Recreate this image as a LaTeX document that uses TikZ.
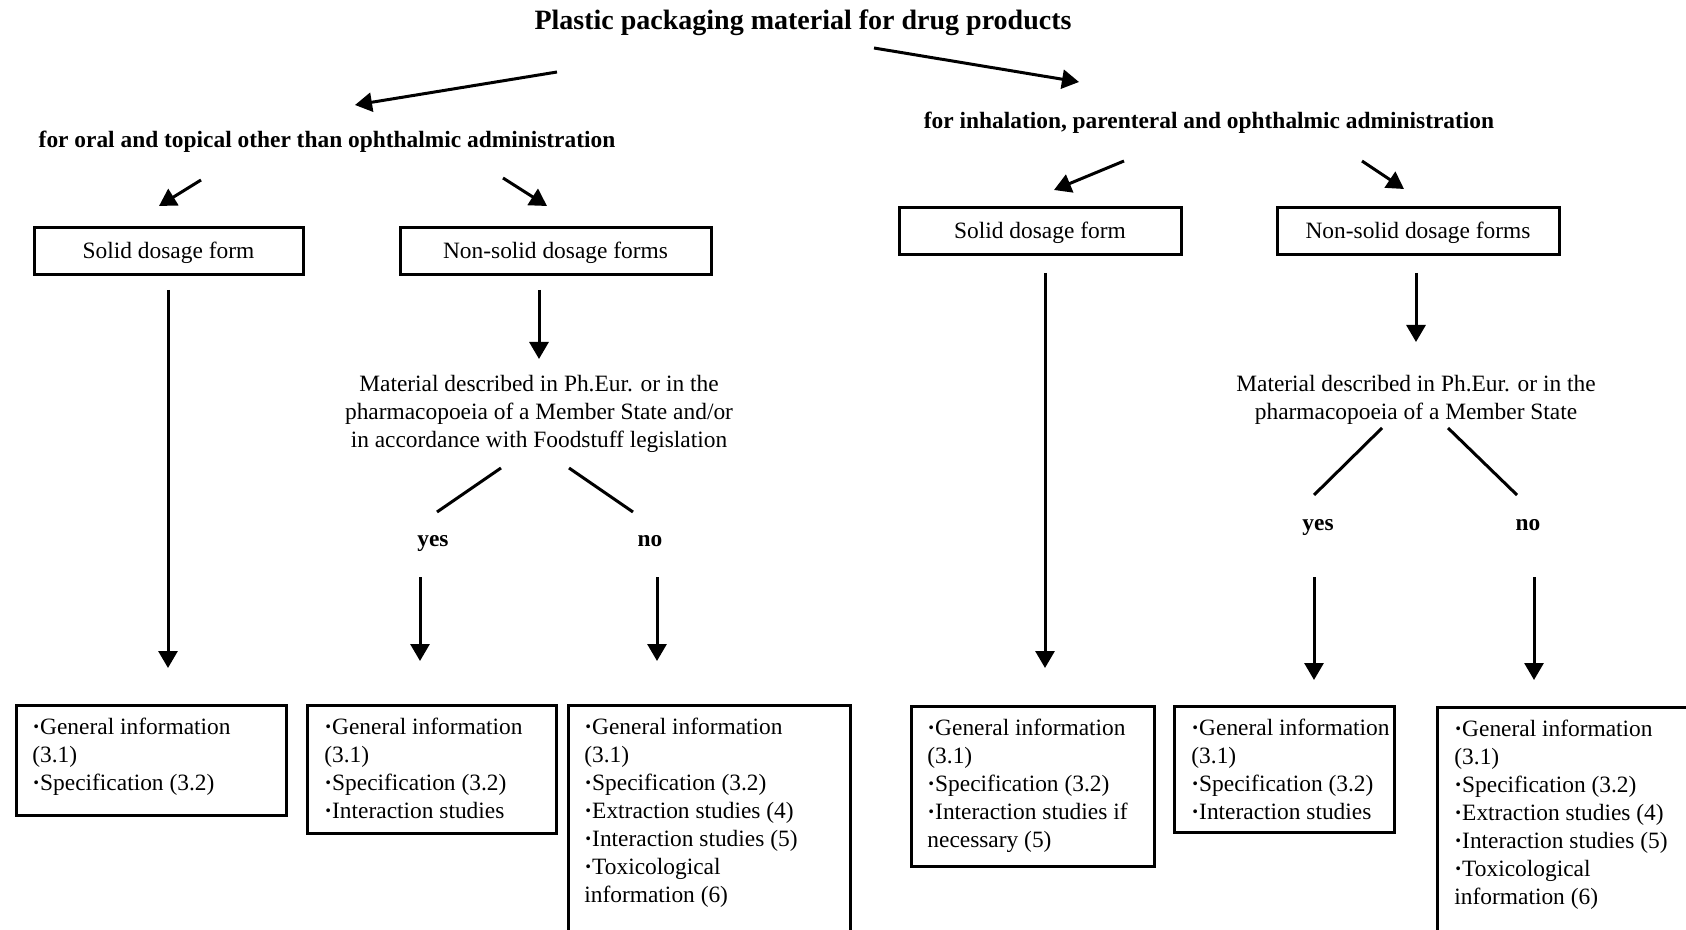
\documentclass[tikz,border=0pt]{standalone}
\usepackage{fontspec}
\setmainfont{Liberation Serif}
\usetikzlibrary{arrows.meta}
\newcommand{\bl}{\textbf{·}}
\begin{document}
\begin{tikzpicture}[x=0.5pt,y=-0.5pt,
  every node/.style={inner sep=0pt, font=\fontsize{11.7}{14}\selectfont},
  hd/.style={font=\bfseries\fontsize{11.7}{14}\selectfont},
  yn/.style={font=\bfseries\fontsize{11.7}{14}\selectfont, anchor=base},
  ttl/.style={font=\bfseries\fontsize{14}{16}\selectfont},
  topbox/.style={draw, line width=1.5pt, minimum height=23.5pt, text height=8pt, text depth=1pt},
  botbox/.style={draw, line width=1.5pt, anchor=north west},
  btxt/.style={align=left, anchor=north west},
  mat/.style={align=center},
  arr/.style={line width=1.5pt, -{Triangle[length=8.5pt,width=9.5pt]}},
  ln/.style={line width=1.5pt}
]
\useasboundingbox (0,0) rectangle (1686,930);

% headings
\node[ttl] (title) at (803,23) {Plastic packaging material for drug products};
\node[hd] (headL) at (327,142) {for oral and topical other than ophthalmic administration};
\node[hd] (headR) at (1209,123) {for inhalation, parenteral and ophthalmic administration};

% top boxes
\node[topbox, minimum width=134.5pt] (solidL) at (168.5,251.5) {Solid dosage form};
\node[topbox, minimum width=155.5pt] (nonL) at (555.5,251.5) {Non-solid dosage forms};
\node[topbox, minimum width=141pt] (solidR) at (1040,231.5) {Solid dosage form};
\node[topbox, minimum width=141pt] (nonR) at (1418,231.5) {Non-solid dosage forms};

% material texts
\node[mat] (matL) at (539,414) {Material described in Ph.Eur. or in the\\pharmacopoeia of a Member State and/or\\in accordance with Foodstuff legislation};
\node[mat] (matR) at (1416,400) {Material described in Ph.Eur. or in the\\pharmacopoeia of a Member State};

% yes / no
\node[yn] (yesL) at (433,546) {yes};
\node[yn] (noL) at (650,546) {no};
\node[yn] (yesR) at (1318,530) {yes};
\node[yn] (noR) at (1528,530) {no};

% bottom boxes
\node[botbox, minimum width=135pt, minimum height=55pt] (b1) at (15,704) {};
\node[botbox, minimum width=124.5pt, minimum height=64pt] (b2) at (306,704) {};
\node[botbox, minimum width=141pt, minimum height=125pt] (b3) at (567,704) {};
\node[botbox, minimum width=121.5pt, minimum height=80pt] (b4) at (910,705) {};
\node[botbox, minimum width=110pt, minimum height=63pt] (b5) at (1173,705) {};
\node[botbox, minimum width=140pt, minimum height=125pt] (b6) at (1436,706) {};

\node[btxt] (t1) at ([xshift=8.5pt,yshift=-7pt]b1.north west) {\bl General information\\(3.1)\\\bl Specification (3.2)};
\node[btxt] (t2) at ([xshift=9pt,yshift=-7pt]b2.north west) {\bl General information\\(3.1)\\\bl Specification (3.2)\\\bl Interaction studies};
\node[btxt] (t3) at ([xshift=8.5pt,yshift=-7pt]b3.north west) {\bl General information\\(3.1)\\\bl Specification (3.2)\\\bl Extraction studies (4)\\\bl Interaction studies (5)\\\bl Toxicological\\information (6)};
\node[btxt] (t4) at ([xshift=8.5pt,yshift=-7pt]b4.north west) {\bl General information\\(3.1)\\\bl Specification (3.2)\\\bl Interaction studies if\\necessary (5)};
\node[btxt] (t5) at ([xshift=9pt,yshift=-7pt]b5.north west) {\bl General information\\(3.1)\\\bl Specification (3.2)\\\bl Interaction studies};
\node[btxt] (t6) at ([xshift=9pt,yshift=-7pt]b6.north west) {\bl General information\\(3.1)\\\bl Specification (3.2)\\\bl Extraction studies (4)\\\bl Interaction studies (5)\\\bl Toxicological\\information (6)};

% connector end points
\coordinate (a1s) at (557,72);   \coordinate (a1e) at (355,105);
\coordinate (a2s) at (874,48);   \coordinate (a2e) at (1079,82);
\coordinate (a3s) at (201,180);  \coordinate (a3e) at (159,206);
\coordinate (a4s) at (503,178);  \coordinate (a4e) at (547,206);
\coordinate (a5s) at (1124,161); \coordinate (a5e) at (1054,190);
\coordinate (a6s) at (1362,161); \coordinate (a6e) at (1404,189);
\coordinate (a7s) at (168,290);  \coordinate (a7e) at (168,668);
\coordinate (a8s) at (539,290);  \coordinate (a8e) at (539,359);
\coordinate (a9s) at (1045,273); \coordinate (a9e) at (1045,668);
\coordinate (a10s) at (1416,273); \coordinate (a10e) at (1416,342);
\coordinate (l1s) at (501,468);  \coordinate (l1e) at (437,512);
\coordinate (l2s) at (569,468);  \coordinate (l2e) at (633,512);
\coordinate (l3s) at (1382,428); \coordinate (l3e) at (1314,495);
\coordinate (l4s) at (1448,428); \coordinate (l4e) at (1517,495);
\coordinate (a11s) at (420,577); \coordinate (a11e) at (420,661);
\coordinate (a12s) at (657,577); \coordinate (a12e) at (657,661);
\coordinate (a13s) at (1314,577); \coordinate (a13e) at (1314,680);
\coordinate (a14s) at (1534,577); \coordinate (a14e) at (1534,680);

\draw[arr] (a1s) -- (a1e);
\draw[arr] (a2s) -- (a2e);
\draw[arr] (a3s) -- (a3e);
\draw[arr] (a4s) -- (a4e);
\draw[arr] (a5s) -- (a5e);
\draw[arr] (a6s) -- (a6e);
\draw[arr] (a7s) -- (a7e);
\draw[arr] (a8s) -- (a8e);
\draw[arr] (a9s) -- (a9e);
\draw[arr] (a10s) -- (a10e);
\draw[ln] (l1s) -- (l1e);
\draw[ln] (l2s) -- (l2e);
\draw[ln] (l3s) -- (l3e);
\draw[ln] (l4s) -- (l4e);
\draw[arr] (a11s) -- (a11e);
\draw[arr] (a12s) -- (a12e);
\draw[arr] (a13s) -- (a13e);
\draw[arr] (a14s) -- (a14e);
\end{tikzpicture}
\end{document}
